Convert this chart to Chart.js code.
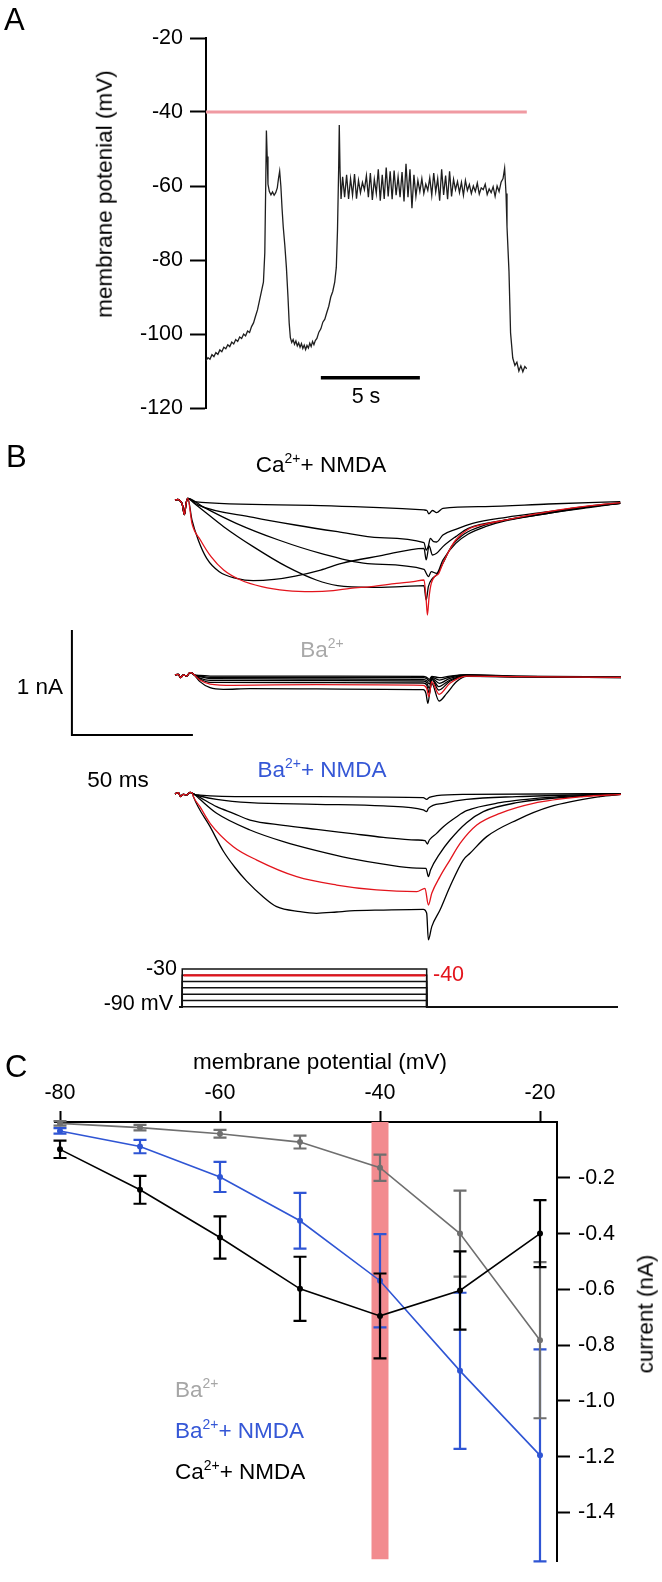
<!DOCTYPE html>
<html>
<head>
<meta charset="utf-8">
<script src="https://cdn.jsdelivr.net/npm/chart.js@4.4.1/dist/chart.umd.min.js"></script>
<style>
    body { margin: 0; background: #fff; }
    #fig { position: relative; width: 662px; height: 1582px; overflow: hidden;
           font-family: "Liberation Sans", Arial, sans-serif; color: #000; }
    canvas { position: absolute; left: 0; }
    .t { position: absolute; white-space: nowrap; line-height: 1; font-size: 22.5px; transform: translate(-50%, -50%); }
    .l { transform: translate(0, -50%); }
    .r { transform: translate(-100%, -50%); }
    .v { transform: translate(-50%, -50%) rotate(-90deg); }
    .p { font-size: 31px; }
    .s { font-size: 21.5px; }
    sup { font-size: 0.62em; line-height: 0; vertical-align: 0.62em; }
</style>
</head>
<body>
<div id="fig">
    <canvas id="chartA" width="662" height="440" style="top:0"></canvas>
    <canvas id="chartB" width="662" height="580" style="top:440px"></canvas>
    <canvas id="chartC" width="662" height="552" style="top:1030px"></canvas>

    <div class="t l p" style="left:4px;top:19px">A</div>
    <div class="t v" style="left:105px;top:194px">membrane potenial (mV)</div>
    <div class="t s" style="left:366px;top:397px">5 s</div>

    <div class="t l p" style="left:6px;top:456px">B</div>
    <div class="t" style="left:321px;top:465px">Ca<sup>2+</sup>+ NMDA</div>
    <div class="t" style="left:322px;top:650px;color:#a9a9a9">Ba<sup>2+</sup></div>
    <div class="t r" style="left:63px;top:687px">1 nA</div>
    <div class="t" style="left:118px;top:780px">50 ms</div>
    <div class="t" style="left:322px;top:770px;color:#3557d6">Ba<sup>2+</sup>+ NMDA</div>
    <div class="t r s" style="left:177px;top:969px">-30</div>
    <div class="t r s" style="left:173px;top:1004px">-90 mV</div>
    <div class="t l s" style="left:433px;top:975px;color:#e3141c">-40</div>

    <div class="t l p" style="left:5px;top:1066px">C</div>
    <div class="t" style="left:320px;top:1062px">membrane potential (mV)</div>
    <div class="t v" style="left:646px;top:1314px">current (nA)</div>
    <div class="t l" style="left:175px;top:1390px;color:#a6a6a6">Ba<sup>2+</sup></div>
    <div class="t l" style="left:175px;top:1431px;color:#3557d6">Ba<sup>2+</sup>+ NMDA</div>
    <div class="t l" style="left:175px;top:1472px">Ca<sup>2+</sup>+ NMDA</div>
</div>
<script>
// ---- Panel A: membrane potential trace, [time s, mV] ----
const traceA = [
    [0, -107.2], [0.1, -106.4], [0.2, -106.8], [0.3, -105.6], [0.4, -106.1], [0.5, -105.0],
    [0.6, -105.5], [0.7, -104.3], [0.8, -104.8], [0.9, -103.6], [1.0, -104.0], [1.1, -102.9],
    [1.2, -103.4], [1.3, -102.2], [1.4, -102.7], [1.5, -101.5], [1.6, -102.0], [1.7, -100.8],
    [1.8, -101.2], [1.9, -100.0], [2.0, -100.5], [2.1, -99.2], [2.2, -99.6], [2.3, -98.0],
    [2.4, -97.0], [2.5, -95.2], [2.6, -93.5], [2.7, -91.0], [2.8, -88.5], [2.9, -86.0],
    [2.97, -78], [3.02, -58], [3.05, -45], [3.09, -52], [3.13, -59.5], [3.2, -61.5],
    [3.28, -62.4], [3.36, -61.6], [3.44, -62.5], [3.52, -61.8], [3.6, -60.5], [3.66, -58],
    [3.72, -56], [3.78, -60], [3.84, -66], [3.9, -71], [3.98, -76], [4.06, -82], [4.14, -90],
    [4.2, -97], [4.26, -101], [4.33, -102.3], [4.4, -101.5], [4.47, -102.8], [4.54, -101.9],
    [4.61, -103.2], [4.68, -102.4], [4.75, -103.6], [4.82, -102.6], [4.89, -103.9], [4.96, -103.0],
    [5.03, -104.2], [5.1, -103.1], [5.17, -103.8], [5.24, -102.5], [5.31, -103.4], [5.38, -102.0],
    [5.45, -102.9], [5.52, -101.8], [5.6, -101.2], [5.7, -99.5], [5.8, -98.6], [5.9, -96.8],
    [6.0, -96.0], [6.1, -94.2], [6.2, -92.5], [6.3, -90.0], [6.4, -88.5], [6.5, -86.0],
    [6.58, -82], [6.64, -72], [6.7, -55], [6.73, -43.5], [6.77, -56], [6.82, -63.5],
    [6.9, -57.5], [7.0, -63.0], [7.1, -57.0], [7.2, -63.5], [7.3, -58.0], [7.4, -62.5],
    [7.5, -56.8], [7.6, -63.4], [7.7, -58.5], [7.8, -61.8], [7.9, -59.0], [8.0, -61.0],
    [8.1, -57.2], [8.2, -63.0], [8.3, -56.5], [8.4, -63.8], [8.5, -58.2], [8.6, -62.0],
    [8.7, -55.5], [8.8, -64.0], [8.9, -57.0], [9.0, -63.5], [9.1, -55.0], [9.2, -62.8],
    [9.3, -56.0], [9.4, -63.6], [9.5, -55.8], [9.6, -62.5], [9.7, -57.5], [9.8, -63.0],
    [9.9, -56.2], [10.0, -64.2], [10.1, -54.0], [10.2, -63.0], [10.3, -55.5], [10.4, -66.0],
    [10.5, -57.0], [10.6, -62.8], [10.7, -58.5], [10.8, -61.5], [10.9, -58.0], [11.0, -62.0],
    [11.1, -59.5], [11.2, -61.2], [11.3, -57.8], [11.4, -62.5], [11.5, -56.5], [11.6, -61.6],
    [11.7, -58.0], [11.8, -64.0], [11.9, -55.5], [12.0, -62.4], [12.1, -57.2], [12.2, -63.6],
    [12.3, -56.0], [12.4, -62.8], [12.5, -58.2], [12.6, -61.0], [12.7, -58.8], [12.8, -61.8],
    [12.9, -59.0], [13.0, -62.5], [13.1, -58.5], [13.2, -61.2], [13.3, -59.6], [13.4, -62.0],
    [13.5, -60.0], [13.6, -61.5], [13.7, -59.2], [13.8, -62.2], [13.9, -60.5], [14.0, -61.0],
    [14.1, -59.5], [14.2, -62.3], [14.3, -60.8], [14.4, -61.8], [14.5, -60.2], [14.6, -62.8],
    [14.7, -60.0], [14.8, -61.5], [14.9, -59.0], [15.0, -58.0], [15.08, -55.2], [15.15, -62],
    [15.2, -71], [15.3, -83], [15.38, -99.7], [15.49, -106.5], [15.6, -108.5], [15.7, -107.6],
    [15.8, -110.0], [15.9, -108.6], [16.0, -110.2], [16.1, -108.8], [16.2, -109.4]
];
const thresholdA = -40;          // mV, pink line
const aTicks = [-120, -100, -80, -60, -40, -20];
const scaleBarSec = 5;

// ---- Panel B: current traces, [time ms, nA] ----
const caLead = [[0, 0], [1.2, 0.005], [2.2, -0.01], [3.0, -0.04], [3.9, -0.14], [4.6, -0.03], [5.3, 0.016]];
const caTrace1 = [[7.9, -0.016], [49.7, -0.048], [84.6, -0.073], [102.9, -0.095], [104.1, -0.1], [104.9, -0.133],
    [106.4, -0.1], [108.1, -0.12], [110.7, -0.079], [128.2, -0.063], [154.3, -0.038], [184, -0.016]];
const caTrace2 = [[9.6, -0.048], [32.3, -0.165], [49.7, -0.238], [67.2, -0.302], [84.6, -0.359], [102.9, -0.406],
    [103.8, -0.476], [104.7, -0.438], [105.5, -0.365], [106.9, -0.397], [108.1, -0.4], [110.7, -0.333],
    [116, -0.279], [123, -0.222], [136.9, -0.165], [154.3, -0.111], [171.8, -0.057], [184, -0.025]];
const caTrace3 = [[11.4, -0.063], [25.3, -0.222], [42.8, -0.381], [60.2, -0.508], [81.1, -0.609], [102.9, -0.66],
    [103.8, -0.698], [104.7, -0.73], [105.9, -0.683], [108.1, -0.698], [110.7, -0.571], [116, -0.413],
    [121.2, -0.324], [128.2, -0.254], [136.9, -0.197], [154.3, -0.127], [171.8, -0.07], [184, -0.032]];
const caTrace4 = [[7.9, -0.032], [14.9, -0.159], [20.1, -0.254], [32.3, -0.444], [46.2, -0.635], [58.4, -0.762],
    [67.2, -0.816], [81.1, -0.832], [93.3, -0.825], [102.9, -0.816], [103.8, -0.952], [104.7, -0.825],
    [106.4, -0.746], [108.1, -0.714], [110.7, -0.603], [114.2, -0.444], [119.5, -0.324], [128.2, -0.238],
    [136.9, -0.19], [154.3, -0.121], [171.8, -0.063], [184, -0.032]];
const caTrace5 = [[7.0, -0.19], [9.6, -0.381], [13.1, -0.556], [18.3, -0.683], [25.3, -0.746], [32.3, -0.768],
    [41.0, -0.756], [49.7, -0.724], [60.2, -0.667], [68.9, -0.603], [84.6, -0.533], [102.9, -0.46],
    [103.8, -0.571], [105.0, -0.438], [106.4, -0.524], [108.1, -0.508], [110.7, -0.444], [116, -0.349],
    [121.2, -0.27], [136.9, -0.19], [154.3, -0.127], [171.8, -0.063], [184, -0.032]];
const caRed = [[7.0, -0.222], [10.5, -0.381], [14.9, -0.54], [20.1, -0.667], [27.1, -0.762], [35.8, -0.825],
    [46.2, -0.863], [56.7, -0.873], [65.4, -0.863], [72.4, -0.841], [81.1, -0.825], [91.6, -0.794],
    [98.5, -0.778], [102.9, -0.762], [103.8, -0.952], [104.3, -1.095], [105.0, -0.921], [105.9, -0.794],
    [107.3, -0.73], [109.0, -0.698], [110.7, -0.603], [114.2, -0.444], [116.0, -0.381], [121.2, -0.279],
    [128.2, -0.229], [136.9, -0.19], [154.3, -0.111], [171.8, -0.054], [184, -0.025]];

const baLead = [[0, 0], [1.4, 0.006], [2.3, -0.025], [3.4, 0], [4.8, -0.01], [6.2, 0.022], [7.2, 0.016], [8.0, 0]];
const baTrace1 = [[10.3, -0.003], [14.5, -0.01], [58.5, -0.01], [102.6, -0.013], [104.0, -0.022], [105.1, -0.041],
    [106.1, -0.013], [109.2, -0.025], [113.6, -0.01], [120.5, 0.003], [141.2, -0.01], [184.3, -0.019]];
const baTrace2 = [[10.3, -0.01], [14.5, -0.022], [58.5, -0.022], [102.6, -0.025], [104.0, -0.035], [105.1, -0.06],
    [106.1, -0.022], [109.2, -0.048], [113.6, -0.019], [120.5, 0], [141.2, -0.013], [184.3, -0.022]];
const baTrace3 = [[10.3, -0.016], [14.5, -0.035], [58.5, -0.038], [102.6, -0.041], [104.0, -0.054], [105.1, -0.086],
    [106.1, -0.029], [109.2, -0.079], [113.6, -0.032], [120.5, -0.003], [141.2, -0.013], [184.3, -0.022]];
const baTrace4 = [[10.3, -0.029], [14.5, -0.051], [58.5, -0.054], [102.6, -0.057], [104.0, -0.073], [105.1, -0.127],
    [106.1, -0.035], [109.0, -0.111], [113.6, -0.048], [120.5, -0.006], [141.2, -0.016], [184.3, -0.025]];
const baTrace5 = [[10.3, -0.038], [14.5, -0.07], [58.5, -0.073], [102.6, -0.076], [104.0, -0.095], [105.1, -0.175],
    [106.1, -0.041], [109.0, -0.143], [113.6, -0.06], [120.5, -0.01], [141.2, -0.019], [184.3, -0.025]];
const baTrace6 = [[10.3, -0.063], [14.5, -0.121], [20.0, -0.137], [31.0, -0.13], [58.5, -0.133], [86.1, -0.137],
    [102.6, -0.14], [103.7, -0.175], [104.5, -0.27], [105.4, -0.143], [106.1, -0.079], [109.1, -0.248],
    [112.3, -0.175], [116.4, -0.063], [120.5, -0.013], [141.2, -0.016], [184.3, -0.022]];
const baRed = [[10.3, -0.048], [14.5, -0.086], [24.1, -0.098], [58.5, -0.092], [102.6, -0.098], [104.0, -0.127],
    [104.9, -0.206], [106.1, -0.063], [109.1, -0.184], [113.6, -0.079], [120.5, -0.01], [141.2, -0.016], [184.3, -0.022]];

const banLead = [[0, 0], [1.4, 0.013], [2.3, -0.025], [3.4, -0.003], [4.8, -0.01], [6.2, 0.016], [7.2, 0.006], [8.0, -0.003]];
const banTrace1 = [[10.3, -0.01], [31.0, -0.025], [58.5, -0.025], [86.1, -0.029], [102.6, -0.035], [104.0, -0.051],
    [105.1, -0.032], [108.1, -0.016], [120.5, -0.003], [184.3, 0.003]];
const banTrace2 = [[10.3, -0.019], [17.2, -0.051], [31.0, -0.083], [58.5, -0.098], [86.1, -0.114], [102.6, -0.152],
    [104.0, -0.168], [104.7, -0.137], [110.9, -0.089], [120.5, -0.051], [141.2, -0.025], [184.3, 0]];
const banTrace3 = [[10.3, -0.032], [17.2, -0.121], [24.1, -0.184], [31.0, -0.248], [44.8, -0.298], [58.5, -0.337],
    [72.3, -0.375], [86.1, -0.413], [99.9, -0.438], [103.3, -0.444], [104.3, -0.476], [105.1, -0.438],
    [108.1, -0.375], [110.9, -0.311], [116.4, -0.216], [120.5, -0.159], [134.3, -0.083], [155.0, -0.032], [184.3, -0.003]];
const banTrace4 = [[10.3, -0.051], [17.2, -0.184], [31.0, -0.343], [44.8, -0.454], [58.5, -0.54], [72.3, -0.613],
    [86.1, -0.667], [99.9, -0.705], [103.7, -0.708], [104.7, -0.787], [105.6, -0.724], [109.5, -0.565],
    [113.6, -0.438], [120.5, -0.273], [127.4, -0.168], [141.2, -0.083], [168.7, -0.019], [184.3, -0.003]];
const banTrace6 = [[7.6, -0.025], [14.5, -0.311], [20.0, -0.545], [24.8, -0.70], [29.6, -0.83], [36.5, -0.98],
    [42.0, -1.073], [51.7, -1.12], [58.5, -1.136], [66.8, -1.124], [72.3, -1.114], [86.1, -1.105],
    [102.6, -1.098], [104.0, -1.136], [104.7, -1.39], [106.1, -1.263], [109.5, -1.105], [113.6, -0.883],
    [119.1, -0.629], [121.9, -0.565], [128.8, -0.406], [141.2, -0.248], [155.0, -0.121], [175.6, -0.025], [184.3, -0.003]];
const banRed = [[7.6, -0.025], [10.3, -0.121], [14.5, -0.279], [24.1, -0.502], [33.8, -0.629], [50.3, -0.787],
    [66.8, -0.867], [83.3, -0.914], [99.9, -0.93], [103.3, -0.898], [104.7, -1.057], [106.1, -0.946],
    [109.5, -0.787], [113.6, -0.629], [117.8, -0.47], [124.7, -0.295], [134.3, -0.184], [148.1, -0.089],
    [168.7, -0.025], [184.3, -0.003]];

// voltage protocol
const protocolLevels = [-90, -80, -70, -60, -50, -40, -30];
const protocolHold = -90;
const protocolRed = -40;
const protocolTimes = [1.8, 3.0, 104.0, 183.0];   // lead start, step on, step off, end (ms)
const scaleBarNA = 1;
const scaleBarMs = 50;

// ---- Panel C: I-V curves ----
const cVoltages = [-80, -70, -60, -50, -40, -30, -20];
const baMean = [-0.005, -0.02, -0.042, -0.072, -0.164, -0.40, -0.782];
const baErr = [0.008, 0.01, 0.014, 0.023, 0.047, 0.154, 0.28];
const baNmdaMean = [-0.032, -0.088, -0.197, -0.354, -0.569, -0.892, -1.195];
const baNmdaErr = [0.01, 0.024, 0.054, 0.10, 0.167, 0.28, 0.38];
const caNmdaMean = [-0.098, -0.243, -0.414, -0.598, -0.695, -0.604, -0.40];
const caNmdaErr = [0.031, 0.05, 0.076, 0.115, 0.152, 0.14, 0.12];
const highlightVoltage = -40;
const cXTicks = [-80, -60, -40, -20];
const cYTicks = [-0.2, -0.4, -0.6, -0.8, -1.0, -1.2, -1.4];

// ---- shared ----
Chart.defaults.font.family = '"Liberation Sans", Arial, sans-serif';
Chart.defaults.color = '#000';

const pts = arr => arr.map(([x, y]) => ({ x, y }));
const BLACK = '#000000';
const RED = '#e3141c';

const BASE_OPTIONS = {
    responsive: false,
    animation: false,
    devicePixelRatio: 1,
    plugins: { legend: { display: false }, tooltip: { enabled: false } }
};

function axisStyle(tickLength, padding, callback) {
    return {
        ticks: { font: { size: 21.5 }, color: '#000', padding: padding, callback: callback },
        grid: { drawOnChartArea: false, drawTicks: true, tickLength: tickLength, tickWidth: 2, tickColor: '#000' },
        border: { display: true, color: '#000', width: 2 }
    };
}

/**
 * Panel A - membrane potential recording
 */
function createPanelA() {
    const barStart = 5.8;   // s, left end of the scale bar
    const barLevel = -111.8;
    new Chart(document.getElementById('chartA'), {
        type: 'line',
        data: {
            datasets: [{
                data: pts(traceA),
                borderColor: '#1e1e1e',
                borderWidth: 1.3,
                pointRadius: 0,
                tension: 0
            }, {
                data: [{ x: 0, y: thresholdA }, { x: traceA[traceA.length - 1][0], y: thresholdA }],
                borderColor: '#f09aa2',
                borderWidth: 3,
                pointRadius: 0
            }, {
                data: [{ x: barStart, y: barLevel }, { x: barStart + scaleBarSec, y: barLevel }],
                borderColor: BLACK,
                borderWidth: 3.5,
                pointRadius: 0
            }]
        },
        options: {
            ...BASE_OPTIONS,
            layout: { padding: { top: 38, bottom: 32, left: 0, right: 135 } },
            scales: {
                x: { type: 'linear', display: false, min: 0, max: 16.21 },
                y: {
                    min: -120, max: -20,
                    afterFit: s => { s.width = 206; },
                    afterBuildTicks: s => { s.ticks = aTicks.map(v => ({ value: v })); },
                    ...axisStyle(16, 7, v => String(v))
                }
            }
        }
    });
}

/**
 * Panel B - current traces for three conditions plus the voltage protocol
 */
function createPanelB() {
    const TOP = 440, H = 580, T0_PX = 175, PX_PER_MS = 2.42, PX_PER_NA = 105, PX_PER_MV = 0.628;
    const range = (basePx, baseVal, pxPerUnit) => {
        const max = baseVal + (basePx - TOP) / pxPerUnit;
        return { min: max - H / pxPerUnit, max: max, display: false };
    };
    const withLead = (lead, body) => pts(lead.filter(p => p[0] < body[0][0]).concat(body));
    const trace = (lead, body, axis, color) => ({
        data: withLead(lead, body),
        yAxisID: axis,
        borderColor: color,
        borderWidth: 1.3,
        pointRadius: 0,
        cubicInterpolationMode: 'monotone',
        order: color === RED ? -1 : 0
    });

    const datasets = [
        trace(caLead, caRed, 'yCa', RED),
        trace(baLead, baRed, 'yBa', RED),
        trace(banLead, banRed, 'yBan', RED)
    ];
    [caTrace1, caTrace2, caTrace3, caTrace4, caTrace5].forEach(t => datasets.push(trace(caLead, t, 'yCa', BLACK)));
    [baTrace1, baTrace2, baTrace3, baTrace4, baTrace5, baTrace6].forEach(t => datasets.push(trace(baLead, t, 'yBa', BLACK)));
    [banTrace1, banTrace2, banTrace3, banTrace4, banTrace6].forEach(t => datasets.push(trace(banLead, t, 'yBan', BLACK)));

    // voltage steps in black, the -40 mV step plateau in red on top
    const [t0, tOn, tOff, tEnd] = protocolTimes;
    protocolLevels.forEach(level => {
        datasets.push({
            data: [
                { x: t0, y: protocolHold }, { x: tOn, y: protocolHold }, { x: tOn, y: level },
                { x: tOff, y: level }, { x: tOff, y: protocolHold }, { x: tEnd, y: protocolHold }
            ],
            yAxisID: 'yProt',
            borderColor: '#111',
            borderWidth: 1.5,
            pointRadius: 0,
            tension: 0
        });
    });
    datasets.push({
        data: [{ x: tOn + 0.5, y: protocolRed }, { x: tOff - 0.5, y: protocolRed }],
        yAxisID: 'yProt',
        borderColor: RED,
        borderWidth: 2.2,
        pointRadius: 0,
        order: -1
    });

    // scale bars (1 nA, 50 ms) on the Ba2+ axis
    const corner = { t: -42.6, nA: -0.571 };
    datasets.push({
        data: [
            { x: corner.t, y: corner.nA + scaleBarNA }, { x: corner.t, y: corner.nA },
            { x: corner.t + scaleBarMs, y: corner.nA }
        ],
        yAxisID: 'yBa',
        borderColor: BLACK,
        borderWidth: 2,
        pointRadius: 0,
        tension: 0
    });

    new Chart(document.getElementById('chartB'), {
        type: 'line',
        data: { datasets: datasets },
        options: {
            ...BASE_OPTIONS,
            layout: { padding: 0 },
            scales: {
                x: { type: 'linear', display: false, min: -T0_PX / PX_PER_MS, max: (662 - T0_PX) / PX_PER_MS },
                yCa: range(500, 0, PX_PER_NA),
                yBa: range(675, 0, PX_PER_NA),
                yBan: range(794, 0, PX_PER_NA),
                yProt: range(1006.7, protocolHold, PX_PER_MV)
            }
        }
    });
}

// error bars drawn right after each dataset so layering follows dataset order
const errorBarPlugin = {
    id: 'errorBars',
    afterDatasetDraw(chart, args) {
        const ds = chart.data.datasets[args.index];
        if (!ds.errors) return;
        const { ctx, scales: { x, y } } = chart;
        ctx.save();
        ctx.strokeStyle = ds.borderColor;
        ctx.lineWidth = 2.2;
        ds.data.forEach((p, i) => {
            const px = x.getPixelForValue(p.x);
            const top = y.getPixelForValue(p.y + ds.errors[i]);
            const bot = y.getPixelForValue(p.y - ds.errors[i]);
            ctx.beginPath();
            ctx.moveTo(px, top); ctx.lineTo(px, bot);
            ctx.moveTo(px - 6.5, top); ctx.lineTo(px + 6.5, top);
            ctx.moveTo(px - 6.5, bot); ctx.lineTo(px + 6.5, bot);
            ctx.stroke();
        });
        ctx.restore();
    }
};

/**
 * Panel C - current vs membrane potential
 */
function createPanelC() {
    const series = (means, errs, color) => ({
        data: cVoltages.map((v, i) => ({ x: v, y: means[i] })),
        errors: errs,
        borderColor: color,
        backgroundColor: color,
        borderWidth: 1.6,
        pointRadius: 3,
        pointBorderWidth: 0,
        tension: 0,
        clip: false
    });
    const yMin = -1.574;

    new Chart(document.getElementById('chartC'), {
        type: 'line',
        data: {
            datasets: [
                series(caNmdaMean, caNmdaErr, BLACK),
                series(baMean, baErr, '#6f6f6f'),
                series(baNmdaMean, baNmdaErr, '#2f55d4'),
                {
                    data: [{ x: highlightVoltage, y: 0 }, { x: highlightVoltage, y: yMin + 0.007 }],
                    borderColor: '#f28b8f',
                    borderWidth: 17,
                    borderCapStyle: 'butt',
                    pointRadius: 0
                }
            ]
        },
        plugins: [errorBarPlugin],
        options: {
            ...BASE_OPTIONS,
            layout: { padding: { left: 55, bottom: 9, top: 0, right: 0 } },
            scales: {
                x: {
                    type: 'linear', position: 'top', min: -80.625, max: -17.875,
                    afterFit: s => { s.height = 92; },
                    afterBuildTicks: s => { s.ticks = cXTicks.map(v => ({ value: v })); },
                    ...axisStyle(11, 5, v => String(v))
                },
                y: {
                    position: 'right', min: yMin, max: 0,
                    afterFit: s => { s.width = 105; },
                    afterBuildTicks: s => { s.ticks = cYTicks.map(v => ({ value: v })); },
                    ...axisStyle(13, 8, v => v.toFixed(1))
                }
            }
        }
    });
}

createPanelA();
createPanelB();
createPanelC();
</script>
</body>
</html>
